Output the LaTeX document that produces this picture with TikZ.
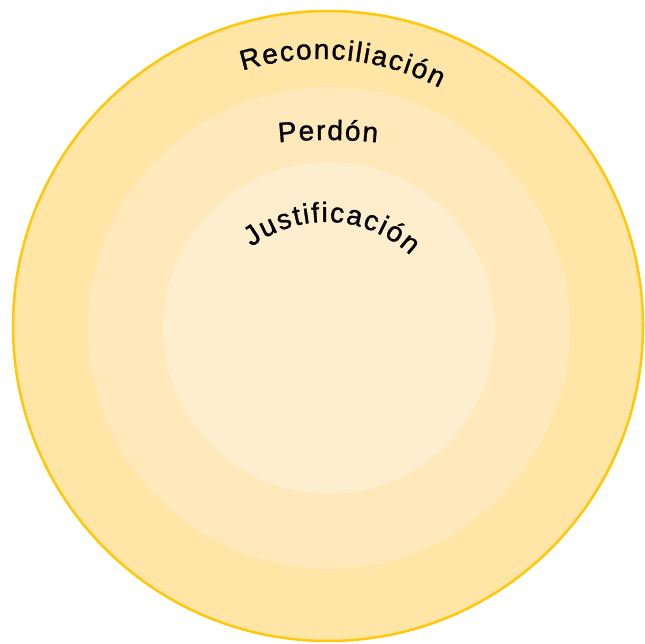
\documentclass[tikz,border=0pt]{standalone}
\usepackage{fontspec}
\newfontfamily\labelfamily[FakeBold=1.2]{Liberation Sans}
\usepackage{tikz}
\usetikzlibrary{calc,decorations.text}
\definecolor{ringgold}{RGB}{255,200,10}
\definecolor{outerfill}{RGB}{255,230,166}
\definecolor{midfill}{RGB}{255,233,186}
\definecolor{innerfill}{RGB}{255,238,206}
\def\lblfont{\labelfamily\fontsize{28}{32}\selectfont}
\def\ls{\kern1.7pt}
\def\bendtext(#1)(#2:#3:#4)#5{\path[decorate,decoration={text along path,text align=center,text={|\lblfont|#5}}] ($(#1)+({#4*cos(#2)},{#4*sin(#2)})$) arc (#2:#3:#4);}

\begin{document}
\begin{tikzpicture}[x=1pt,y=1pt]
	%%%%% START %%%%%
	\useasboundingbox (0,0) rectangle (645,643);
	
	\draw[line width=2.5pt, draw=ringgold, fill=outerfill] (328,317) circle (315);
	\fill[midfill] (329,315) circle (241);
	\fill[innerfill] (329,315) circle (166);
	
	\bendtext(320,322)(135:35:262){{R\ls}{e\ls}{c\ls}{o\ls}{n\ls}{c\ls}{i\ls}{l\ls}{i\ls}{a\ls}{c\ls}{i\ls}{ó\ls}n}
	\bendtext(328,3)(100:80:500){{P\ls}{e\ls}{r\ls}{d\ls}{ó\ls}n}
	\bendtext(326,298)(167:7:123){{J\ls}{u\ls}{s\ls}{t\ls}{i\ls}{f\ls}{i\ls}{c\ls}{a\ls}{c\ls}{i\ls}{ó\ls}n}
	%%%%% END %%%%%
\end{tikzpicture}
\end{document}
